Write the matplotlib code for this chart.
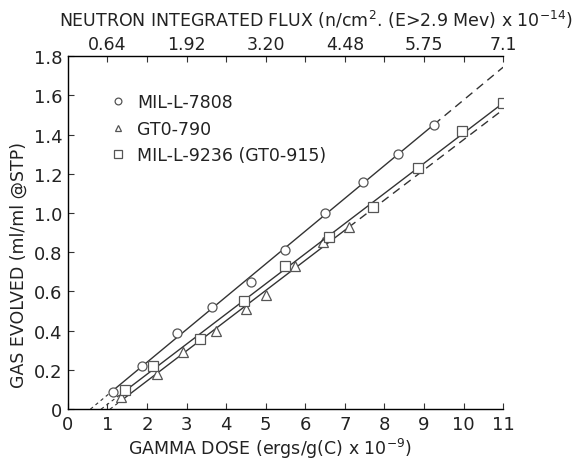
import numpy as np
import matplotlib
matplotlib.use("Agg")
import matplotlib.pyplot as plt

# --- data ---
dose_7808 = [1.15, 1.87, 2.77, 3.65, 4.62, 5.5, 6.5, 7.45, 8.35, 9.25]
gas_7808 = [0.09, 0.22, 0.39, 0.52, 0.65, 0.81, 1.0, 1.16, 1.30, 1.45]

dose_790 = [1.35, 2.25, 2.9, 3.75, 4.5, 5.0, 5.75, 6.45, 7.1]
gas_790 = [0.06, 0.18, 0.29, 0.40, 0.51, 0.58, 0.73, 0.85, 0.93]

dose_9236 = [1.45, 2.15, 3.35, 4.45, 5.5, 6.6, 7.7, 8.85, 9.95, 11.0]
gas_9236 = [0.10, 0.22, 0.36, 0.55, 0.73, 0.88, 1.03, 1.23, 1.42, 1.56]

labels = ['MIL-L-7808', 'GT0-790', 'MIL-L-9236 (GT0-915)']
markers = ['o', '^', 's']

flux_pos = [1, 3, 5, 7, 9, 11]
flux_labels = ['0.64', '1.92', '3.20', '4.48', '5.75', '7.1']

XMAX = 11
ink = '#333333'

fig = plt.figure(figsize=(5.75, 4.64), dpi=100)
ax = fig.add_axes([0.118, 0.116, 0.757, 0.761])

series = [(dose_7808, gas_7808), (dose_790, gas_790), (dose_9236, gas_9236)]
for (xs, ys), lab, mk in zip(series, labels, markers):
    xs = np.array(xs)
    ys = np.array(ys)
    k, b = np.polyfit(xs, ys, 1)
    x0 = -b / k
    # dashed start near origin, solid over data, dashed extrapolation
    xa = np.array([x0, xs.min()])
    ax.plot(xa, k * xa + b, '--', color=ink, lw=0.8, dashes=(3, 3))
    xb = np.array([xs.min(), xs.max()])
    ax.plot(xb, k * xb + b, '-', color=ink, lw=1.0)
    if xs.max() < XMAX:
        xc = np.array([xs.max(), XMAX])
        ax.plot(xc, k * xc + b, '--', color=ink, lw=1.0, dashes=(6, 4))
    ax.plot(xs, ys, mk, ms=6.5 if mk != 's' else 7.5, mfc='white', mec='#555555',
            mew=0.9, label=lab, linestyle='none')

ax.set_xlim(0, XMAX)
ax.set_ylim(0, 1.8)
ax.set_xticks(range(0, 12))
ax.set_yticks(np.arange(0, 1.81, 0.2))
ax.set_yticklabels(['0', '0.2', '0.4', '0.6', '0.8', '1.0', '1.2', '1.4', '1.6', '1.8'])
ax.tick_params(direction='in', length=4, width=0.8, color=ink, labelsize=13,
               labelcolor='#222222', pad=4)
ax.spines['right'].set_visible(False)
for s in ['left', 'bottom', 'top']:
    ax.spines[s].set_color(ink)
    ax.spines[s].set_linewidth(1.0)

ax.set_xlabel('GAMMA DOSE (ergs/g(C) x 10$^{-9}$)', fontsize=12.5, color='#222222')
ax.xaxis.set_label_coords(0.465, -0.075)
ax.set_ylabel('GAS EVOLVED (ml/ml @STP)', fontsize=12.5, color='#222222')
ax.yaxis.set_label_coords(-0.092, 0.41)

top = ax.twiny()
top.set_xlim(ax.get_xlim())
top.set_xticks(flux_pos)
top.set_xticklabels(flux_labels)
top.set_xticks(range(1, 11), minor=True)
top.tick_params(which='both', direction='in', length=4, width=0.8, color=ink,
                labelsize=12.5, labelcolor='#222222', pad=2)
top.spines['right'].set_visible(False)
top.set_xlabel('NEUTRON INTEGRATED FLUX (n/cm$^2$. (E>2.9 Mev) x 10$^{-14}$)',
               fontsize=12.5, color='#222222')
top.xaxis.set_label_coords(0.57, 1.085)

leg = ax.legend(loc='upper left', bbox_to_anchor=(0.06, 0.915), frameon=False,
                fontsize=12.5, handletextpad=0.1, labelspacing=0.5,
                markerscale=0.75, borderaxespad=0)
for t in leg.get_texts():
    t.set_color('#222222')

fig.savefig('out.png', dpi=100)
